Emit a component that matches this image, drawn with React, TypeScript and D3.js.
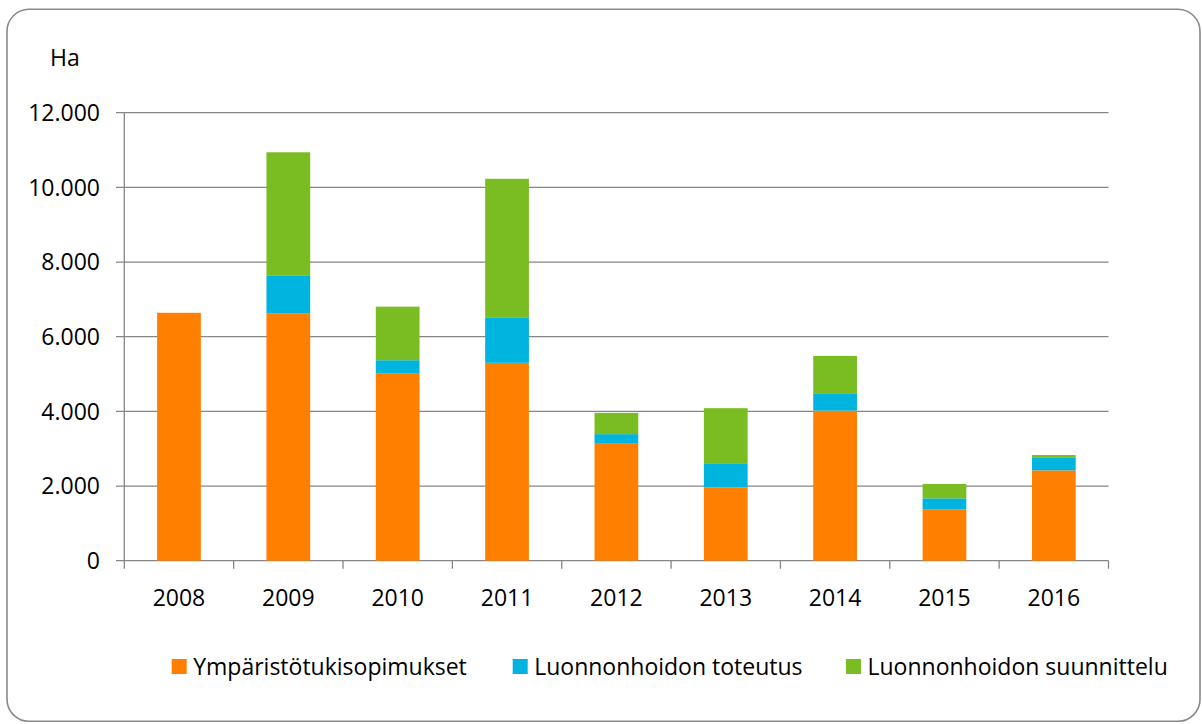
import React from "react";
import * as d3 from "d3";

const years = ["2008", "2009", "2010", "2011", "2012", "2013", "2014", "2015", "2016"];
const ymparisto = [6640, 6630, 5010, 5300, 3150, 1960, 4020, 1370, 2420];
const toteutus = [0, 1000, 360, 1220, 240, 650, 465, 300, 350];
const suunnittelu = [0, 3310, 1435, 3710, 570, 1475, 1000, 385, 60];
const seriesNames = ["Ympäristötukisopimukset", "Luonnonhoidon toteutus", "Luonnonhoidon suunnittelu"];
const seriesColors = ["#FF8000", "#00B4E0", "#7ABD22"];
const yTicks = [0, 2000, 4000, 6000, 8000, 10000, 12000];

const W = 1202;
const H = 724;
const FONT = "'Open Sans', 'Noto Sans', sans-serif";
const FS = 23;

export default function App() {
  const left = 124.3, right = 1108.5, top = 112.7, bottom = 560.7;
  const x = d3.scaleBand<string>().domain(years).range([left, right]).paddingInner(0).paddingOuter(0);
  const y = d3.scaleLinear().domain([0, 12000]).range([bottom, top]);
  const rows = years.map((yr, i) => ({ year: yr, a: ymparisto[i], b: toteutus[i], c: suunnittelu[i] }));
  const stack = d3.stack<any>().keys(["a", "b", "c"]);
  const layers = stack(rows);
  const bw = x.bandwidth() * 0.4;
  const fmt = (v: number) => (v === 0 ? "0" : d3.format(",")(v).replace(/,/g, "."));
  const grid = "#868686";
  const legendX = [171.7, 512.7, 846];

  return (
    <svg width={W} height={H} style={{ position: "absolute", left: 0, top: 0 }} fontFamily={FONT}>
      <rect x={0} y={0} width={W} height={H} fill="#fff" />
      <rect x={7} y={9.3} width={1193} height={712} rx={22} ry={22} fill="#fff" stroke="#8a8a8a" strokeWidth={1.6} />
      <text x={50} y={57.5} dy="0.36em" fontSize={FS} fill="#000">Ha</text>
      {yTicks.map((t) => (
        <g key={t}>
          <line x1={116} x2={right} y1={y(t)} y2={y(t)} stroke={grid} strokeWidth={1.3} />
          <text x={100} y={y(t)} dy="0.36em" textAnchor="end" fontSize={FS} fill="#000">{fmt(t)}</text>
        </g>
      ))}
      <line x1={left} x2={left} y1={top} y2={bottom} stroke={grid} strokeWidth={1.3} />
      {d3.range(years.length + 1).map((k) => {
        const xx = left + k * x.bandwidth();
        return <line key={k} x1={xx} x2={xx} y1={bottom} y2={bottom + 8} stroke={grid} strokeWidth={1.3} />;
      })}
      {layers.map((layer, si) => (
        <g key={si} fill={seriesColors[si]}>
          {layer.map((d, i) => {
            const h = y(d[0]) - y(d[1]);
            if (h <= 0) return null;
            return (
              <rect key={i} x={(x(years[i]) as number) + (x.bandwidth() - bw) / 2} y={y(d[1])} width={bw} height={h} />
            );
          })}
        </g>
      ))}
      {years.map((yr) => (
        <text key={yr} x={(x(yr) as number) + x.bandwidth() / 2} y={598} dy="0.36em" textAnchor="middle" fontSize={FS} fill="#000">{yr}</text>
      ))}
      {seriesNames.map((n, i) => (
        <g key={n}>
          <rect x={legendX[i]} y={659} width={15} height={15} fill={seriesColors[i]} />
          <text x={legendX[i] + 21.5} y={666.5} dy="0.36em" fontSize={FS} fill="#000">{n}</text>
        </g>
      ))}
    </svg>
  );
}
